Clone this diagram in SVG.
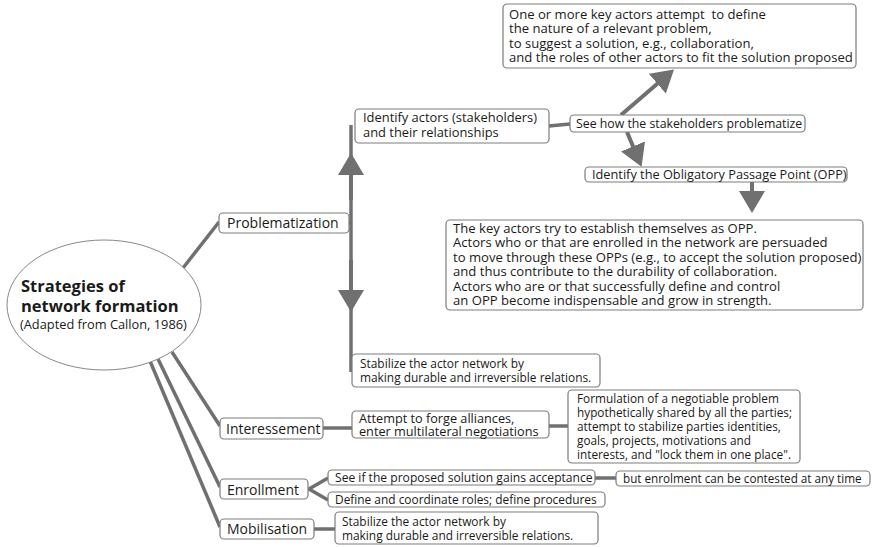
<svg xmlns="http://www.w3.org/2000/svg" width="872" height="547" viewBox="0 0 872 547">
<style>
.box{fill:#fff;stroke:#7c7c7c;stroke-width:1.2}
.t{font-family:'Open Sans','Noto Sans',sans-serif;font-size:12.6px;fill:#1a1a1a}
.t14{font-size:14px}
.s13{font-size:13.1px}
.s12{font-size:11.9px}
.c{stroke:#707070;stroke-width:3.5;fill:none}
.a{stroke:#707070;stroke-width:4;fill:none;marker-end:url(#ah)}
</style>
<defs>
<marker id="ah" markerUnits="userSpaceOnUse" viewBox="0 0 22 26" markerWidth="22" markerHeight="26" refX="18" refY="13" orient="auto">
<path d="M0,0 L22,13 L0,26 z" fill="#707070"/>
</marker>
</defs>
<rect width="872" height="547" fill="#fff"/>
<g id="connectors">
<line class="c" x1="183" y1="268" x2="219" y2="222"/>
<line class="c" x1="172" y1="352" x2="220" y2="426"/>
<line class="c" x1="158" y1="359" x2="220" y2="487"/>
<line class="c" x1="150" y1="361" x2="220" y2="527"/>
<line class="c" x1="349" y1="223" x2="352" y2="223"/>
<line class="c" x1="351" y1="125" x2="351" y2="372"/>
<path class="a" d="M351,200 L351,157"/>
<path class="a" d="M351,260 L351,308"/>
<line class="c" x1="549" y1="126" x2="570" y2="124"/>
<path class="a" d="M621,115 L671,72"/>
<path class="a" d="M627,132 L640,163"/>
<path class="a" d="M752,182 L752,209"/>
<line class="c" x1="323" y1="428" x2="352" y2="428"/>
<line class="c" x1="549" y1="426" x2="568" y2="426"/>
<path class="c" d="M328,478 L309,489 L328,500"/>
<line class="c" x1="595" y1="478" x2="616" y2="478"/>
<line class="c" x1="314" y1="529" x2="335" y2="529"/>
</g>
<g id="root">
<ellipse cx="104" cy="305" rx="97" ry="65" fill="#fff" stroke="#888" stroke-width="1"/>
<text class="t" x="21" y="292" style="font-size:16.5px;font-weight:bold">Strategies of</text>
<text class="t" x="21" y="312" style="font-size:16.5px;font-weight:bold">network formation</text>
<text class="t" x="20" y="329" style="font-size:12.8px">(Adapted from Callon, 1986)</text>
</g>
<g id="problematization">
<rect class="box" x="219" y="213" width="130" height="20" rx="4"/>
<text class="t t14" x="227" y="228">Problematization</text>
</g>
<g id="identify-actors">
<rect class="box" x="355" y="109" width="194" height="34" rx="4"/>
<text class="t" x="363" y="122" style="font-size:12.9px">Identify actors (stakeholders)</text>
<text class="t" x="363" y="136.5" style="font-size:12.9px">and their relationships</text>
</g>
<g id="see-how">
<rect class="box" x="570" y="115" width="235" height="17" rx="4"/>
<text class="t" x="576" y="128" style="font-size:12.3px">See how the stakeholders problematize</text>
</g>
<g id="key-actors">
<rect class="box" x="503" y="4" width="353" height="64" rx="4"/>
<text class="t s13" x="509" y="18.5" xml:space="preserve">One or more key actors attempt  to define</text>
<text class="t s13" x="509" y="33">the nature of a relevant problem,</text>
<text class="t s13" x="509" y="47.5">to suggest a solution, e.g., collaboration,</text>
<text class="t s13" x="509" y="62">and the roles of other actors to fit the solution proposed</text>
</g>
<g id="opp">
<rect class="box" x="585" y="167" width="262" height="15" rx="4"/>
<text class="t" x="592" y="179" style="font-size:12.75px">Identify the Obligatory Passage Point (OPP)</text>
</g>
<g id="opp-detail">
<rect class="box" x="446" y="220" width="417" height="90" rx="4"/>
<text class="t s13" x="453" y="232.5">The key actors try to establish themselves as OPP.</text>
<text class="t s13" x="453" y="247">Actors who or that are enrolled in the network are persuaded</text>
<text class="t s13" x="453" y="261.5">to move through these OPPs (e.g., to accept the solution proposed)</text>
<text class="t s13" x="453" y="276">and thus contribute to the durability of collaboration.</text>
<text class="t s13" x="453" y="290.5">Actors who are or that successfully define and control</text>
<text class="t s13" x="453" y="305">an OPP become indispensable and grow in strength.</text>
</g>
<g id="stabilize-1">
<rect class="box" x="352" y="354" width="248" height="33" rx="4"/>
<text class="t s12" x="360" y="368">Stabilize the actor network by</text>
<text class="t s12" x="360" y="382">making durable and irreversible relations.</text>
</g>
<g id="interessement">
<rect class="box" x="220" y="418" width="103" height="21" rx="4"/>
<text class="t t14" x="226" y="433.5">Interessement</text>
</g>
<g id="attempt">
<rect class="box" x="352" y="411" width="197" height="27" rx="4"/>
<text class="t" x="359" y="422.5" style="font-size:12.7px">Attempt to forge alliances,</text>
<text class="t" x="359" y="435.5" style="font-size:12.7px">enter multilateral negotiations</text>
</g>
<g id="formulation">
<rect class="box" x="568" y="390" width="232" height="73" rx="4"/>
<text class="t" x="577" y="403" style="font-size:11.8px">Formulation of a negotiable problem</text>
<text class="t" x="577" y="417" style="font-size:11.8px">hypothetically shared by all the parties;</text>
<text class="t" x="577" y="431" style="font-size:11.8px">attempt to stabilize parties identities,</text>
<text class="t" x="577" y="445" style="font-size:11.8px">goals, projects, motivations and</text>
<text class="t" x="577" y="459" style="font-size:11.8px">interests, and "lock them in one place".</text>
</g>
<g id="enrollment">
<rect class="box" x="220" y="479" width="88" height="20" rx="4"/>
<text class="t t14" x="227" y="494.5">Enrollment</text>
</g>
<g id="see-if">
<rect class="box" x="328" y="470" width="267" height="15" rx="4"/>
<text class="t" x="335" y="482" style="font-size:12.1px">See if the proposed solution gains acceptance</text>
</g>
<g id="define">
<rect class="box" x="328" y="492" width="277" height="15" rx="4"/>
<text class="t s12" x="335" y="504">Define and coordinate roles; define procedures</text>
</g>
<g id="contested">
<rect class="box" x="616" y="471" width="254" height="15" rx="4"/>
<text class="t" x="623" y="483" style="font-size:11.7px">but enrolment can be contested at any time</text>
</g>
<g id="mobilisation">
<rect class="box" x="220" y="519" width="94" height="20" rx="4"/>
<text class="t t14" x="227" y="534">Mobilisation</text>
</g>
<g id="stabilize-2">
<rect class="box" x="335" y="512" width="263" height="32" rx="4"/>
<text class="t s12" x="342" y="525.5">Stabilize the actor network by</text>
<text class="t s12" x="342" y="540">making durable and irreversible relations.</text>
</g>
</svg>
